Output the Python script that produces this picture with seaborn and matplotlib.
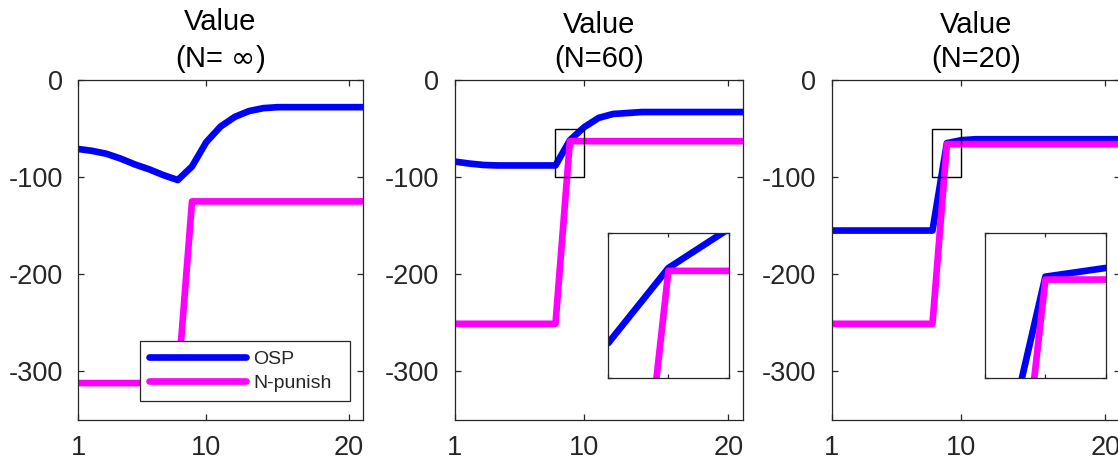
import matplotlib
matplotlib.use('Agg')
import pandas as pd
import matplotlib.pyplot as plt
import seaborn as sns
from matplotlib.patches import Rectangle

steps = list(range(1, 22))

osp_inf = [-71, -73, -76, -81, -87, -92, -98, -103, -89, -64, -48, -38, -32, -29,
           -28, -28, -28, -28, -28, -28, -28]
pun_inf = [-312, -312, -312, -312, -312, -312, -312, -312, -125, -125, -125, -125,
           -125, -125, -125, -125, -125, -125, -125, -125, -125]

osp_60 = [-84, -86, -87.5, -88, -88, -88, -88, -88, -62, -48.5, -39, -35, -34, -33,
          -33, -33, -33, -33, -33, -33, -33]
pun_60 = [-251, -251, -251, -251, -251, -251, -251, -251, -63, -63, -63, -63, -63,
          -63, -63, -63, -63, -63, -63, -63, -63]

osp_20 = [-155, -155, -155, -155, -155, -155, -155, -155, -65, -62, -61, -61, -61,
          -61, -61, -61, -61, -61, -61, -61, -61]
pun_20 = [-251, -251, -251, -251, -251, -251, -251, -251, -66, -66, -66, -66, -66,
          -66, -66, -66, -66, -66, -66, -66, -66]

titles = ['Value\n(N= $\\infty$)', 'Value\n(N=60)', 'Value\n(N=20)']
methods = ['OSP', 'N-punish']
colors = {'OSP': '#0000ff', 'N-punish': '#ff00ff'}


def make_frame(osp, pun):
    return pd.DataFrame({'step': steps + steps,
                         'value': osp + pun,
                         'method': ['OSP'] * len(steps) + ['N-punish'] * len(steps)})


def draw_lines(ax, df, lw):
    sns.lineplot(data=df, x='step', y='value', hue='method', hue_order=methods,
                 palette=colors, linewidth=lw, estimator=None, legend=False, ax=ax)
    ax.set_xlabel('')
    ax.set_ylabel('')


sns.set_style('ticks')
plt.rcParams['font.family'] = ['Liberation Sans', 'DejaVu Sans']
plt.rcParams['axes.unicode_minus'] = False
plt.rcParams['axes.edgecolor'] = '#262626'
plt.rcParams['axes.linewidth'] = 0.9
plt.rcParams['xtick.color'] = '#262626'
plt.rcParams['ytick.color'] = '#262626'

fig = plt.figure(figsize=(11.18, 4.57), dpi=100)
positions = [[0.0698, 0.081, 0.2549, 0.744],
             [0.4067, 0.081, 0.2576, 0.744],
             [0.7439, 0.081, 0.2576, 0.744]]
frames = [make_frame(osp_inf, pun_inf), make_frame(osp_60, pun_60), make_frame(osp_20, pun_20)]

for i, (pos, df) in enumerate(zip(positions, frames)):
    ax = fig.add_axes(pos)
    draw_lines(ax, df, 4.8)
    ax.set_xlim(1, 21)
    ax.set_ylim(-350, 0)
    ax.set_xticks([1, 10, 20])
    ax.set_yticks([-300, -200, -100, 0])
    ax.tick_params(direction='in', top=True, right=True, length=4, width=0.9,
                   labelsize=19.5, colors='#262626')
    ax.tick_params(axis='y', pad=11)
    ax.tick_params(axis='x', pad=11)
    ax.set_title(titles[i], fontsize=21, pad=9, linespacing=1.3, color='black')
    for s in ax.spines.values():
        s.set_visible(True)

    if i == 0:
        handles = ax.get_lines()[:2]
        leg = ax.legend(handles, methods, loc='lower left',
                        bbox_to_anchor=(0.2175, 0.056, 0.737, 0.17), mode='expand',
                        borderaxespad=0, frameon=True, fancybox=False, framealpha=1,
                        edgecolor='#262626', fontsize=14, handlelength=5.0,
                        handletextpad=0.36, borderpad=0.45, labelspacing=0.35)
        leg.get_frame().set_linewidth(0.9)
        leg.set_zorder(10)
    else:
        ax.add_patch(Rectangle((8, -100), 2, 50, fill=False, edgecolor='black',
                               linewidth=1, zorder=5))
        ins = ax.inset_axes([0.533, 0.124, 0.418, 0.425])
        draw_lines(ins, df, 4.8)
        ins.set_xlim(8, 10)
        ins.set_ylim(-100, -50)
        ins.set_xticks([8, 9, 10])
        ins.set_yticks([-100, -50])
        ins.set_xticklabels([])
        ins.set_yticklabels([])
        ins.tick_params(direction='in', top=True, right=True, length=3, width=0.9)
        for s in ins.spines.values():
            s.set_visible(True)

fig.savefig('out.png', dpi=100)
